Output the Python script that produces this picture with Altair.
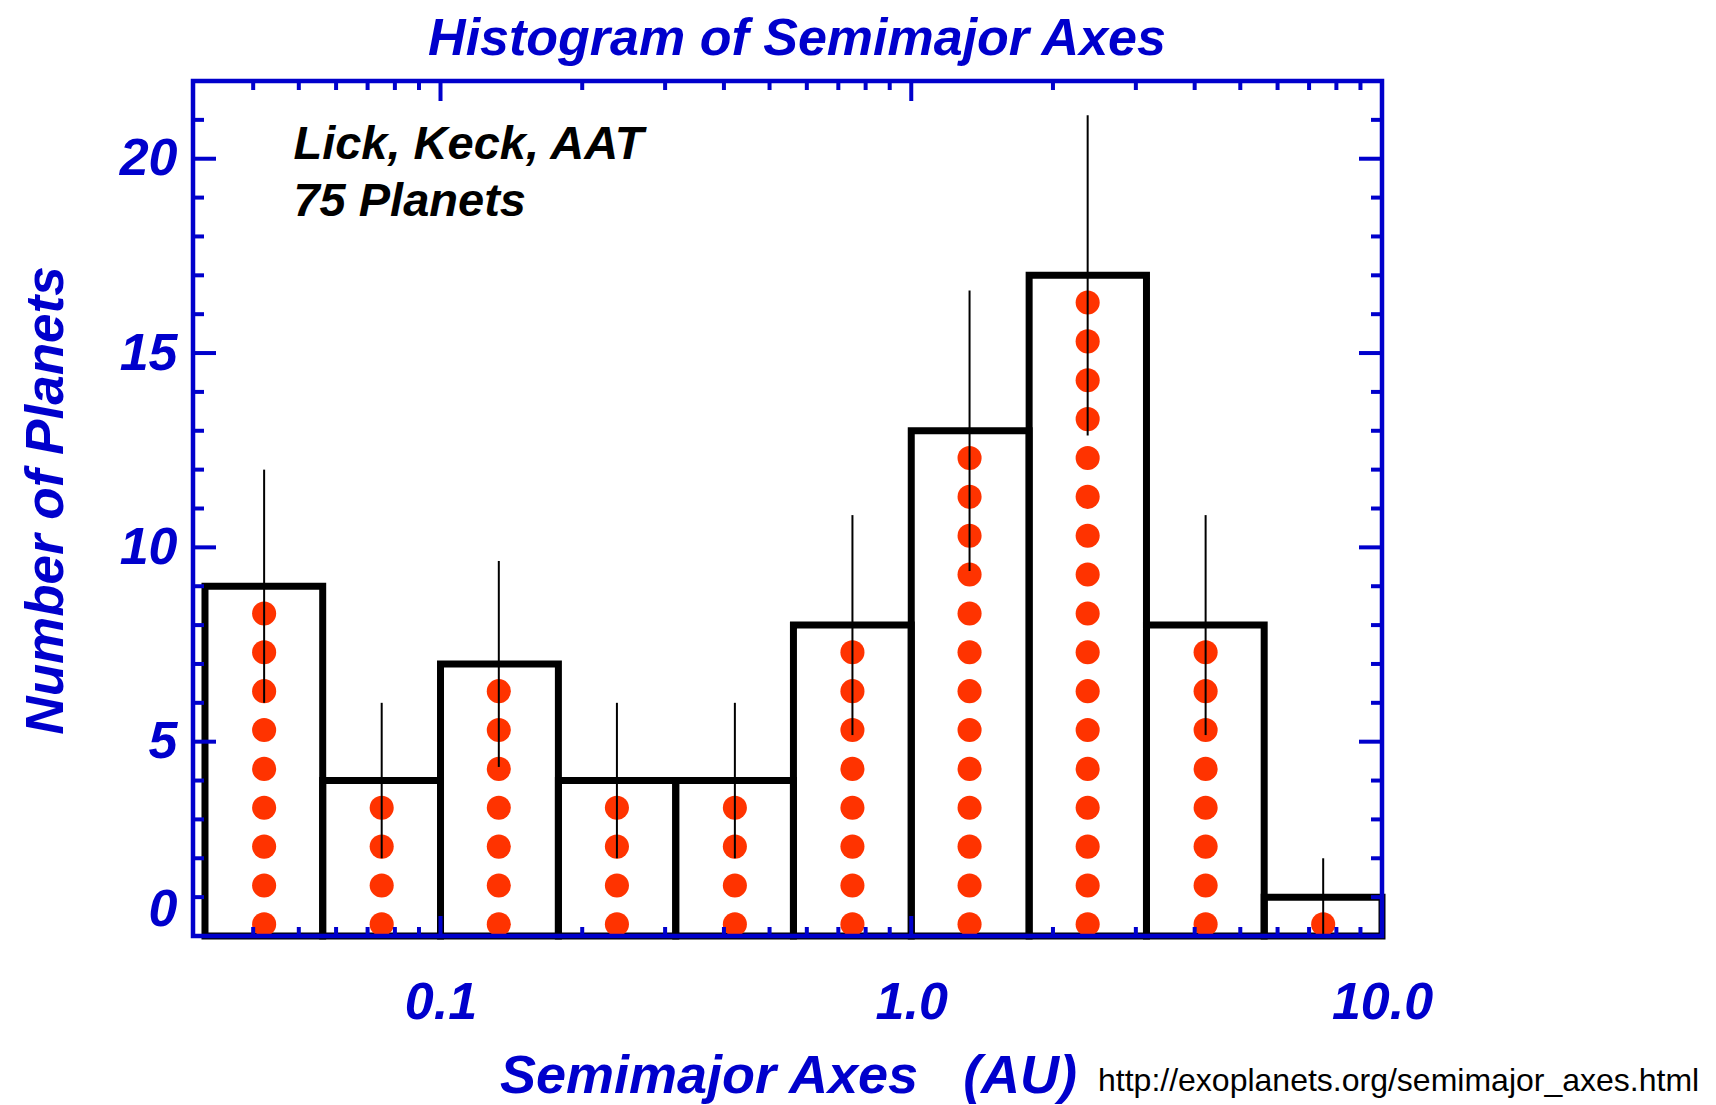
import altair as alt
import pandas as pd

# ---------------- data ----------------
bin_lo = [0.0316, 0.0562, 0.1, 0.178, 0.316, 0.562, 1.0, 1.78, 3.16, 5.62]
bin_hi = [0.0562, 0.1, 0.178, 0.316, 0.562, 1.0, 1.78, 3.16, 5.62, 10.0]
bin_mid = [0.0422, 0.075, 0.133, 0.237, 0.422, 0.75, 1.33, 2.37, 4.22, 7.5]
counts = [9, 4, 7, 4, 4, 8, 13, 17, 8, 1]
err = [3.0, 2.0, 2.65, 2.0, 2.0, 2.83, 3.61, 4.12, 2.83, 1.0]
dot_offset = 0.3

x_major = [0.1, 1.0]
x_minor = [0.04, 0.05, 0.06, 0.07, 0.08, 0.09,
           0.2, 0.3, 0.4, 0.5, 0.6, 0.7, 0.8, 0.9,
           2, 3, 4, 5, 6, 7, 8, 9]
y_major = [0, 5, 10, 15, 20]
y_minor = [1, 2, 3, 4, 6, 7, 8, 9, 11, 12, 13, 14, 16, 17, 18, 19, 21]
x_labels = [0.1, 1.0, 10.0]
y_labels = [0, 5, 10, 15, 20]

ann_text = ["Lick, Keck, AAT", "75 Planets"]
ann_x = [0.0487, 0.0487]
ann_y = [20.0, 18.53]
url_text = ["http://exoplanets.org/semimajor_axes.html"]

title_text = ["Histogram of Semimajor Axes"]
x_title = "Semimajor Axes\u00a0\u00a0\u00a0(AU)"
y_title = "Number of Planets"

# ---------------- styling ----------------
W, H = 1189, 855
BLUE = "#0000CC"
RED = "#FF3300"
FONT = "Liberation Sans"

xs = alt.Scale(type="log", domain=[0.0298, 10], nice=False)
ys = alt.Scale(domain=[0, 22], nice=False, zero=False)

bars_df = pd.DataFrame({"lo": bin_lo, "hi": bin_hi, "count": counts,
                        "zero": [0] * len(counts)})
err_df = pd.DataFrame({"mid": bin_mid,
                       "elo": [max(c - e, 0) for c, e in zip(counts, err)],
                       "ehi": [c + e for c, e in zip(counts, err)]})
dots_rows = []
for m, c in zip(bin_mid, counts):
    for k in range(c):
        dots_rows.append({"mid": m, "yy": k + dot_offset})
dots_df = pd.DataFrame(dots_rows)

x_axis = alt.Axis(values=x_labels, format=".1f", ticks=False, tickSize=0,
                  domain=False, grid=False, labelFlush=False,
                  labelFont=FONT, labelFontSize=52, labelFontWeight="bold",
                  labelFontStyle="italic", labelColor=BLUE,
                  labelBaseline="alphabetic", labelPadding=82,
                  title=x_title, titleFont=FONT, titleFontSize=54,
                  titleFontWeight="bold", titleFontStyle="italic",
                  titleColor=BLUE, titleX=595, titleY=156,
                  titleBaseline="alphabetic", titleAlign="center")
y_axis = alt.Axis(values=y_labels, ticks=False, tickSize=0, domain=False,
                  grid=False, labelFlush=True,
                  labelFont=FONT, labelFontSize=52, labelFontWeight="bold",
                  labelFontStyle="italic", labelColor=BLUE, labelPadding=16,
                  title=y_title, titleFont=FONT, titleFontSize=53,
                  titleFontWeight="bold", titleFontStyle="italic",
                  titleColor=BLUE, titleAngle=270, titleX=-131, titleY=419,
                  titleBaseline="alphabetic", titleAlign="center")

bars = alt.Chart(bars_df).mark_rect(
    fillOpacity=0, stroke="black", strokeWidth=7
).encode(
    x=alt.X("lo:Q", scale=xs, axis=x_axis),
    x2="hi:Q",
    y=alt.Y("count:Q", scale=ys, axis=y_axis),
    y2="zero:Q",
)

dots = alt.Chart(dots_df).mark_circle(color=RED, opacity=1, size=580).encode(
    x=alt.X("mid:Q", scale=xs, axis=None),
    y=alt.Y("yy:Q", scale=ys, axis=None),
)

errs = alt.Chart(err_df).mark_rule(color="black", strokeWidth=2).encode(
    x=alt.X("mid:Q", scale=xs, axis=None),
    y=alt.Y("elo:Q", scale=ys, axis=None),
    y2="ehi:Q",
)

frame = alt.Chart(pd.DataFrame({"a": [0]})).mark_rect(
    fillOpacity=0, stroke=BLUE, strokeWidth=4.5
).encode(x=alt.value(0), x2=alt.value(W), y=alt.value(0), y2=alt.value(H))


def xticks(vals, length):
    df = pd.DataFrame({"v": vals})
    base = alt.Chart(df).mark_rule(color=BLUE, strokeWidth=4)
    bot = base.encode(x=alt.X("v:Q", scale=xs, axis=None),
                      y=alt.value(H), y2=alt.value(H - length))
    top = base.encode(x=alt.X("v:Q", scale=xs, axis=None),
                      y=alt.value(0), y2=alt.value(length))
    return [bot, top]


def yticks(vals, length):
    df = pd.DataFrame({"v": vals})
    base = alt.Chart(df).mark_rule(color=BLUE, strokeWidth=4)
    left = base.encode(y=alt.Y("v:Q", scale=ys, axis=None),
                       x=alt.value(0), x2=alt.value(length))
    right = base.encode(y=alt.Y("v:Q", scale=ys, axis=None),
                        x=alt.value(W - length), x2=alt.value(W))
    return [left, right]


ticks = xticks(x_major, 20) + xticks(x_minor, 9) + yticks(y_major, 23) + yticks(y_minor, 11)

ann = alt.Chart(pd.DataFrame({"t": ann_text, "x": ann_x, "y": ann_y})).mark_text(
    align="left", baseline="alphabetic", font=FONT, fontSize=47,
    fontWeight="bold", fontStyle="italic", color="black"
).encode(
    x=alt.X("x:Q", scale=xs, axis=None),
    y=alt.Y("y:Q", scale=ys, axis=None),
    text="t:N",
)

title = alt.Chart(pd.DataFrame({"t": title_text})).mark_text(
    align="center", baseline="alphabetic", font=FONT, fontSize=52,
    fontWeight="bold", fontStyle="italic", color=BLUE
).encode(x=alt.value(604), y=alt.value(-26), text="t:N")

url = alt.Chart(pd.DataFrame({"t": url_text})).mark_text(
    align="left", baseline="alphabetic", font=FONT, fontSize=32, color="black"
).encode(x=alt.value(905), y=alt.value(1010), text="t:N")

chart = alt.layer(bars, dots, errs, frame, *ticks, ann, title, url).resolve_axis(
    x="independent", y="independent"
).properties(
    width=W, height=H,
    autosize=alt.AutoSizeParams(type="none"),
    padding={"left": 193, "top": 81, "right": 334, "bottom": 169},
).configure_view(strokeWidth=0).configure(background="white")

chart.save("out.html", embed_options={"renderer": "svg", "actions": False})
